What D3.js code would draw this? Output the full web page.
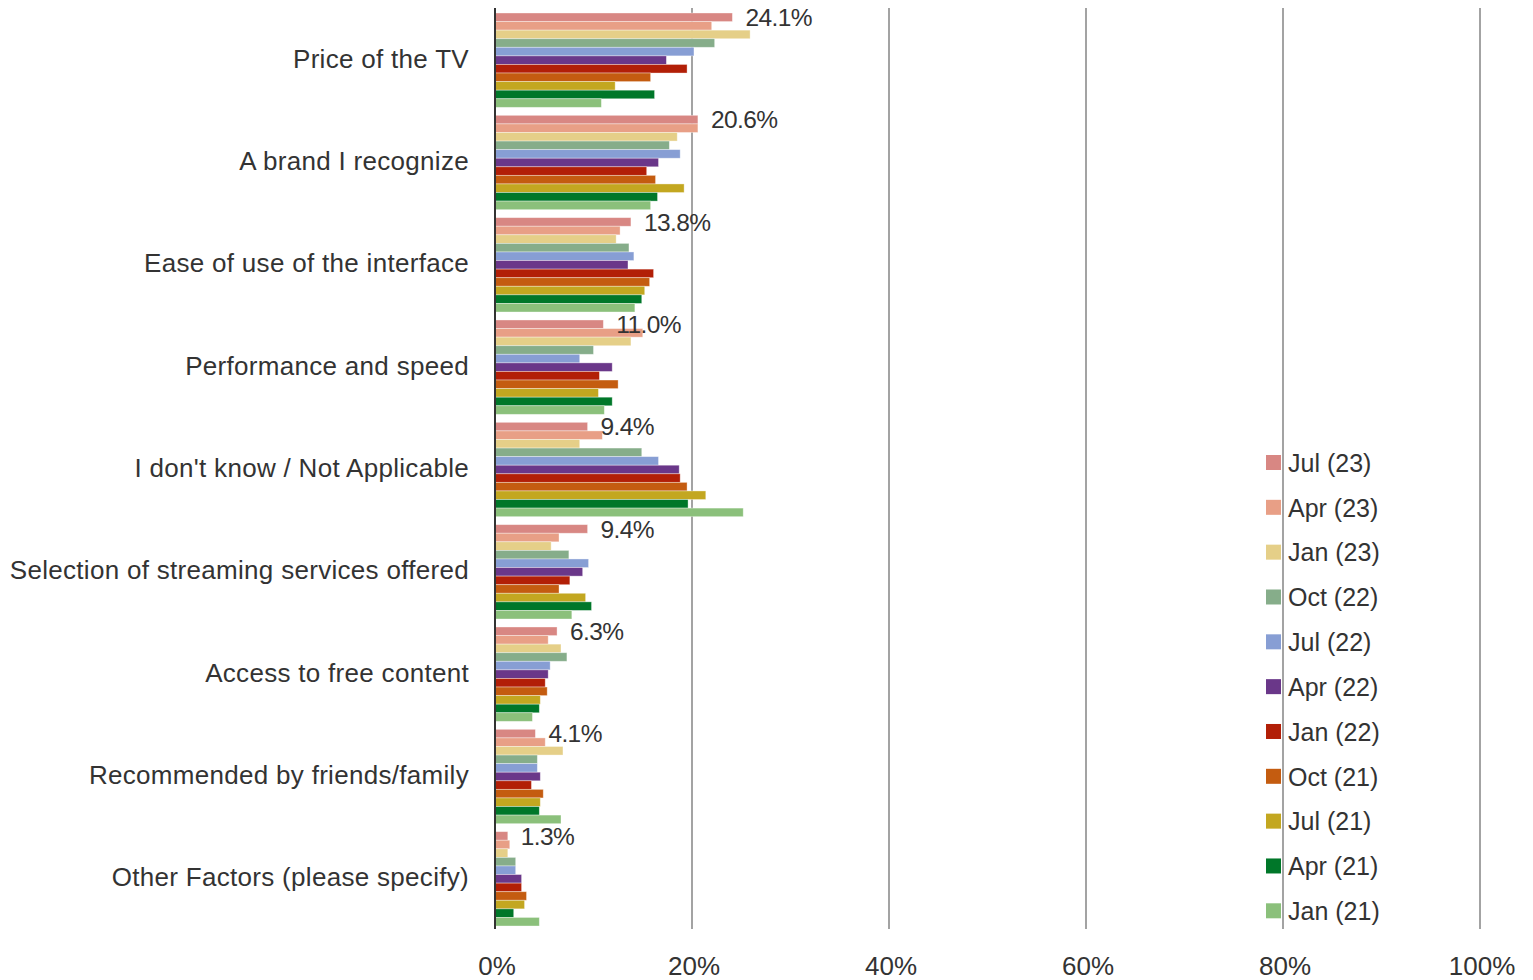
<!DOCTYPE html>
<html>
<head>
<meta charset="utf-8">
<script src="https://cdn.jsdelivr.net/npm/d3@7/dist/d3.min.js"></script>
<style>
  html, body { margin: 0; padding: 0; background: #fff; }
  svg { display: block; }
  text { font-family: "Liberation Sans", Arial, sans-serif; fill: #333; }
</style>
</head>
<body>
<svg id="chart" width="1533" height="980"></svg>
<script>
// Purchase factors, share of respondents (%) per survey wave
const categories = [
  "Price of the TV",
  "A brand I recognize",
  "Ease of use of the interface",
  "Performance and speed",
  "I don't know / Not Applicable",
  "Selection of streaming services offered",
  "Access to free content",
  "Recommended by friends/family",
  "Other Factors (please specify)"
];

const seriesNames = [
  "Jul (23)", "Apr (23)", "Jan (23)", "Oct (22)", "Jul (22)", "Apr (22)",
  "Jan (22)", "Oct (21)", "Jul (21)", "Apr (21)", "Jan (21)"
];

const seriesColors = [
  "#d88783", "#e89f86", "#e5cf88", "#86ad8a", "#879ed4", "#6a3789",
  "#b21f07", "#c45c10", "#c3a720", "#007729", "#8bc07b"
];

// one array per wave, in category order
const jul23 = [24.1, 20.6, 13.8, 11.0, 9.4, 9.4, 6.3, 4.1, 1.3];
const apr23 = [22.0, 20.6, 12.7, 15.0, 10.9, 6.5, 5.4, 5.1, 1.5];
const jan23 = [25.9, 18.5, 12.3, 13.8, 8.6, 5.7, 6.7, 6.9, 1.3];
const oct22 = [22.3, 17.7, 13.6, 10.0, 14.9, 7.5, 7.3, 4.3, 2.1];
const jul22 = [20.2, 18.8, 14.1, 8.6, 16.6, 9.5, 5.6, 4.3, 2.1];
const apr22 = [17.4, 16.6, 13.5, 11.9, 18.7, 8.9, 5.4, 4.6, 2.7];
const jan22 = [19.5, 15.4, 16.1, 10.6, 18.8, 7.6, 5.1, 3.7, 2.7];
const oct21 = [15.8, 16.3, 15.7, 12.5, 19.5, 6.5, 5.3, 4.9, 3.2];
const jul21 = [12.2, 19.2, 15.2, 10.5, 21.4, 9.2, 4.6, 4.6, 3.0];
const apr21 = [16.2, 16.5, 14.9, 11.9, 19.6, 9.8, 4.5, 4.5, 1.9];
const jan21 = [10.8, 15.8, 14.2, 11.1, 25.2, 7.8, 3.8, 6.7, 4.5];

const seriesValues = [jul23, apr23, jan23, oct22, jul22, apr22, jan22, oct21, jul21, apr21, jan21];

const xTicks = [0, 20, 40, 60, 80, 100];

const svg = d3.select("#chart");

const plot = { left: 495, right: 1480, top: 9, bottom: 930 };

const x = d3.scaleLinear().domain([0, 100]).range([plot.left, plot.right]);

const y0 = d3.scaleBand()
  .domain(categories)
  .range([plot.top, plot.bottom])
  .paddingInner(0.078)
  .paddingOuter(0.039);

const y1 = d3.scaleBand()
  .domain(seriesNames)
  .range([0, y0.bandwidth()])
  .padding(0);

const color = d3.scaleOrdinal().domain(seriesNames).range(seriesColors);

// vertical gridlines
svg.append("g")
  .selectAll("line")
  .data(xTicks.filter(d => d > 0))
  .join("line")
  .attr("x1", d => x(d)).attr("x2", d => x(d))
  .attr("y1", 8).attr("y2", 929)
  .attr("stroke", "#a3a3a3")
  .attr("stroke-width", 2);

// bars
const groups = svg.append("g")
  .selectAll("g")
  .data(categories)
  .join("g")
  .attr("transform", d => `translate(0,${y0(d)})`);

groups.selectAll("rect")
  .data((c, ci) => seriesNames.map((s, si) => ({ series: s, value: seriesValues[si][ci] })))
  .join("rect")
  .attr("x", x(0))
  .attr("y", d => y1(d.series))
  .attr("width", d => x(d.value) - x(0))
  .attr("height", y1.bandwidth())
  .attr("fill", d => color(d.series))
  .attr("stroke", "#ffffff")
  .attr("stroke-opacity", 0.45)
  .attr("stroke-width", 0.8);

// value labels for the latest wave
groups.append("text")
  .attr("x", (c, ci) => x(jul23[ci]) + 13)
  .attr("y", y1(seriesNames[0]) + y1.bandwidth() / 2)
  .attr("dy", "0.35em")
  .attr("font-size", 24.5)
  .attr("letter-spacing", -0.6)
  .text((c, ci) => jul23[ci].toFixed(1) + "%");

// category labels
svg.append("g")
  .selectAll("text")
  .data(categories)
  .join("text")
  .attr("x", 469)
  .attr("y", d => y0(d) + y0.bandwidth() / 2 - 1.5)
  .attr("dy", "0.35em")
  .attr("text-anchor", "end")
  .attr("font-size", 26)
  .attr("letter-spacing", 0.3)
  .text(d => d);

// zero axis line
svg.append("line")
  .attr("x1", x(0)).attr("x2", x(0))
  .attr("y1", 8).attr("y2", 929)
  .attr("stroke", "#333")
  .attr("stroke-width", 2);

// x tick labels
svg.append("g")
  .selectAll("text")
  .data(xTicks)
  .join("text")
  .attr("x", d => x(d) + 2)
  .attr("y", 975)
  .attr("text-anchor", "middle")
  .attr("font-size", 26)
  .text(d => d + "%");

// legend
const legend = svg.append("g")
  .selectAll("g")
  .data(seriesNames)
  .join("g")
  .attr("transform", (d, i) => `translate(1266,${455 + i * 44.83})`);

legend.append("rect")
  .attr("width", 15).attr("height", 15)
  .attr("fill", d => color(d));

legend.append("text")
  .attr("x", 22)
  .attr("y", 8)
  .attr("dy", "0.35em")
  .attr("font-size", 25)
  .text(d => d);
</script>
</body>
</html>
